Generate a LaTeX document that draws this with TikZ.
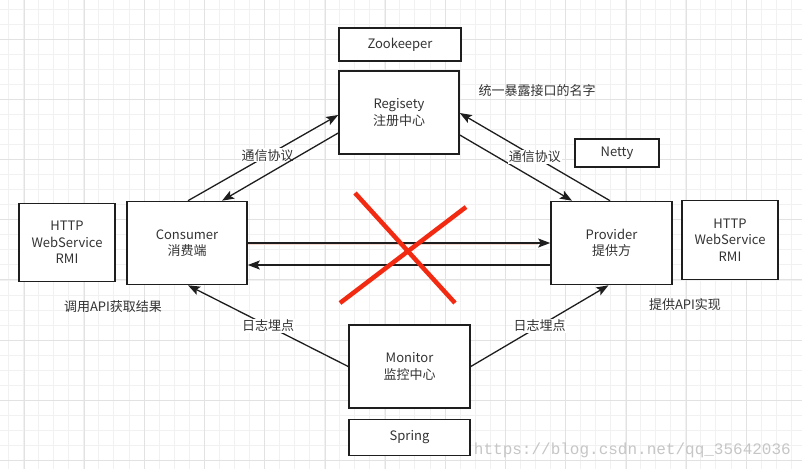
\documentclass[tikz,border=0pt]{standalone}
\usepackage{fontspec}
\setmainfont{Noto Sans CJK SC}
\newfontfamily\wmfont{Liberation Mono}
\usetikzlibrary{positioning,arrows.meta,calc}
\definecolor{gridminor}{HTML}{F1F1F1}
\definecolor{gridmajor}{HTML}{E2E2E2}
\definecolor{boxline}{HTML}{1E1E1E}
\definecolor{labeltext}{HTML}{333333}
\definecolor{crossred}{HTML}{F22A12}
\definecolor{shadowred}{HTML}{F4D8D0}
\definecolor{markgrey}{HTML}{C6C6C6}

\begin{document}
\begin{tikzpicture}[
  x=1pt, y=-1pt,
  font=\fontsize{13}{16.5}\selectfont,
  box/.style={draw=boxline, line width=1.6pt, fill=white, align=center, text=labeltext,
              inner sep=0pt, minimum width=120pt, minimum height=83pt},
  proto/.style={box, minimum width=96pt, minimum height=78pt},
  tag/.style={box, minimum height=33pt},
  arr/.style={-{Stealth[length=12pt, width=9pt, inset=2.5pt]}, line width=1.3pt, boxline},
  lab/.style={fill=white, inner sep=1pt, text=labeltext},
  note/.style={text=labeltext, inner sep=0pt},
  cross/.style={line width=4.5pt, crossred}
]
\useasboundingbox (0,0) rectangle (802,469);
\fill[white] (0,0) rectangle (802,469);
% ================= background grid =================
\foreach \i in {0,...,53}{\draw[gridminor, line width=0.8pt] (8.5+15.05*\i,0) -- (8.5+15.05*\i,469);}
\foreach \i in {0,...,31}{\draw[gridminor, line width=0.8pt] (0,9+15.05*\i) -- (802,9+15.05*\i);}
\foreach \i in {0,...,13}{\draw[gridmajor, line width=0.8pt] (24+60.2*\i,0) -- (24+60.2*\i,469);}
\foreach \i in {0,...,7}{\draw[gridmajor, line width=0.8pt] (0,39+60.2*\i) -- (802,39+60.2*\i);}
% ================= boxes =================
\node[tag, minimum width=122pt] (zk)  at (400,44.5) {Zookeeper};
\node[box]  (reg)    at (399,112.5) {Regisety\\注册中心};
\node[tag, minimum width=84pt, minimum height=28pt] (netty) at (617,153) {Netty};
\node[box]  (cons)   at (187,243)   {Consumer\\消费端};
\node[box, minimum width=121pt] (prov) at (611.5,243) {Provider\\提供方};
\node[proto] (httpL) at (67,242.5)  {HTTP\\WebService\\RMI};
\node[proto, minimum height=79pt] (httpR) at (730,240) {HTTP\\WebService\\RMI};
\node[box, minimum width=121pt] (mon) at (409.5,366.5) {Monitor\\监控中心};
\node[tag, minimum width=121pt, minimum height=36pt] (spring) at (409.5,437.5) {Spring};
% ----- free notes -----
\node[note] (regnote)  at (537,91)  {统一暴露接口的名字};
\node[note] (consnote) at (113,307) {调用API获取结果};
\node[note] (provnote) at (685,305) {提供API实现};
% ================= registry links =================
\draw[arr] ([xshift=1pt]cons.north) -- node[lab, pos=0.53]{通信协议} ([yshift=-2.5pt]reg.west);
\draw[arr] ([yshift=-20.5pt]reg.west) -- ([xshift=35pt]cons.north);
\draw[arr] ([yshift=-22.5pt]reg.east) -- ([xshift=-39.5pt]prov.north);
\draw[arr] ([xshift=-1.5pt]prov.north) -- node[lab, pos=0.5]{通信协议} ([yshift=-0.5pt]reg.east);
% ================= direct calls =================
\draw[shadowred, line width=3pt] (cons.east) -- ([xshift=-12pt]prov.west);
\draw[arr] (cons.east) -- (prov.west);
\draw[arr] ([yshift=-22pt]prov.west) -- ([yshift=-22pt]cons.east);
% ================= monitor links =================
\draw[arr] (mon.west) -- node[lab, pos=0.5]{日志埋点} ([xshift=1pt]cons.south);
\draw[arr] (mon.east) -- node[lab, pos=0.5]{日志埋点} ([xshift=-3pt]prov.south);
% ================= red cross =================
\coordinate (xa) at (355,193);
\coordinate (xb) at (455,303);
\coordinate (xc) at (466,207);
\coordinate (xd) at (340,303);
\draw[cross] (xa) -- (xb);
\draw[cross] (xc) -- (xd);
% watermark
\node[anchor=base east, inner sep=0pt, text=markgrey, font=\wmfont\fontsize{16}{16}\selectfont] (wm)
  at (791,454) {https://blog.csdn.net/qq\_35642036};
\end{tikzpicture}
\end{document}
